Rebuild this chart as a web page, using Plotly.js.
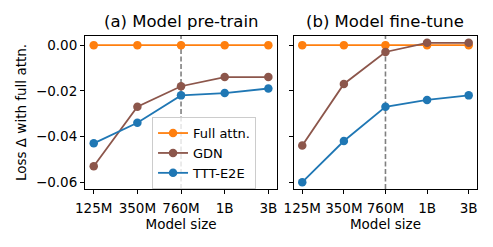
<!DOCTYPE html>
<html>
<head>
<meta charset="utf-8">
<script src="https://cdn.plot.ly/plotly-3.0.1.min.js"></script>
<style>
  html, body { margin: 0; padding: 0; background: #fff; }
  #chart { width: 493px; height: 247px; }
</style>
</head>
<body>
<div id="chart"></div>
<script>
const sizes = ["125M", "350M", "760M", "1B", "3B"];
const markedSize = "760M";

// (a) pre-train
const pretrainFull = [0, 0, 0, 0, 0];
const pretrainGdn = [-0.053, -0.027, -0.018, -0.014, -0.014];
const pretrainTtt = [-0.043, -0.034, -0.022, -0.021, -0.019];

// (b) fine-tune
const finetuneFull = [0, 0, 0, 0, 0];
const finetuneGdn = [-0.044, -0.017, -0.003, 0.001, 0.001];
const finetuneTtt = [-0.060, -0.042, -0.027, -0.024, -0.022];

const yTicks = [0, -0.02, -0.04, -0.06];

const colors = { full: "#ff7f0e", gdn: "#8c564b", ttt: "#1f77b4" };
const fontFamily = "'DejaVu Sans', sans-serif";
const fs = 13.5;

function series(y, name, color, axis, showlegend) {
  return {
    x: sizes,
    y: y,
    type: "scatter",
    mode: "lines+markers",
    name: name,
    xaxis: "x" + axis,
    yaxis: "y" + axis,
    showlegend: showlegend,
    line: { color: color, width: 1.8 },
    marker: { color: color, size: 8.5 },
  };
}

const traces = [
  series(pretrainFull, "Full attn.", colors.full, "", true),
  series(pretrainGdn, "GDN", colors.gdn, "", true),
  series(pretrainTtt, "TTT-E2E", colors.ttt, "", true),
  series(finetuneFull, "Full attn.", colors.full, "2", false),
  series(finetuneGdn, "GDN", colors.gdn, "2", false),
  series(finetuneTtt, "TTT-E2E", colors.ttt, "2", false),
];

const xAxisBase = {
  type: "category",
  range: [-0.2, 4.2],
  showline: true,
  linecolor: "#000",
  linewidth: 1,
  mirror: true,
  ticks: "outside",
  ticklen: 4,
  tickcolor: "#000",
  ticklabelstandoff: 3,
  showgrid: false,
  zeroline: false,
  tickfont: { size: fs, color: "#000" },
  title: { text: "Model size", font: { size: fs, color: "#000" }, standoff: 2 },
};

const yAxisBase = {
  range: [-0.063, 0.004],
  tickvals: yTicks,
  tickformat: ".2f",
  showline: true,
  linecolor: "#000",
  linewidth: 1,
  mirror: true,
  ticks: "outside",
  ticklen: 4,
  tickcolor: "#000",
  showgrid: false,
  zeroline: false,
  tickfont: { size: fs, color: "#000" },
};

const marker = sizes.indexOf(markedSize);
const vline = (axis) => ({
  type: "line",
  xref: "x" + axis,
  yref: "y" + axis + " domain",
  x0: marker,
  x1: marker,
  y0: 0,
  y1: 1,
  layer: "below",
  line: { color: "#808080", width: 1.6, dash: "5px,2.5px" },
});

const layout = {
  width: 493,
  height: 247,
  paper_bgcolor: "#fff",
  plot_bgcolor: "#fff",
  font: { family: fontFamily, color: "#000", size: fs },
  margin: { l: 85, r: 16, t: 36, b: 58 },
  showlegend: true,
  xaxis: { ...xAxisBase, domain: [0, 0.49], anchor: "y" },
  yaxis: {
    ...yAxisBase,
    domain: [0, 1],
    anchor: "x",
    title: { text: "Loss Δ with full attn.", font: { size: fs, color: "#000" }, standoff: 6 },
  },
  xaxis2: { ...xAxisBase, domain: [0.533, 1], anchor: "y2" },
  yaxis2: { ...yAxisBase, domain: [0, 1], anchor: "x2", showticklabels: false },
  shapes: [vline(""), vline("2")],
  legend: {
    x: 0.171,
    y: 0.47,
    xanchor: "left",
    yanchor: "top",
    bgcolor: "rgba(255,255,255,0.8)",
    bordercolor: "#cccccc",
    borderwidth: 1,
    font: { size: 13, color: "#000" },
    itemwidth: 30,
  },
  annotations: [
    {
      text: "(a) Model pre-train",
      xref: "x domain",
      yref: "paper",
      x: 0.5,
      y: 1,
      yshift: 3,
      xanchor: "center",
      yanchor: "bottom",
      showarrow: false,
      font: { size: 16.5, color: "#000" },
    },
    {
      text: "(b) Model fine-tune",
      xref: "x2 domain",
      yref: "paper",
      x: 0.5,
      y: 1,
      yshift: 3,
      xanchor: "center",
      yanchor: "bottom",
      showarrow: false,
      font: { size: 16.5, color: "#000" },
    },
  ],
};

Plotly.newPlot("chart", traces, layout, { displayModeBar: false, staticPlot: true });
</script>
</body>
</html>
